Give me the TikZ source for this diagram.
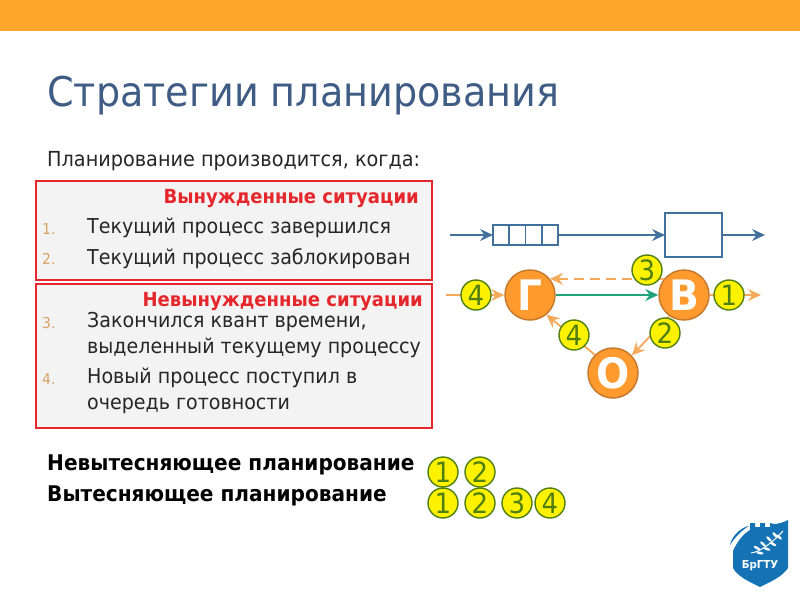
\documentclass[tikz,border=0pt]{standalone}
\usepackage{fontspec}
\setmainfont[FakeStretch=0.93]{DejaVu Sans}
\usetikzlibrary{arrows.meta}
\definecolor{band}{HTML}{FFA62B}
\definecolor{titlec}{HTML}{3F5C85}
\definecolor{redc}{HTML}{E5262B}
\definecolor{boxbg}{HTML}{F3F3F3}
\definecolor{bluec}{HTML}{41719C}
\definecolor{orfill}{HTML}{FF9A2E}
\definecolor{orline}{HTML}{C77A2E}
\definecolor{orarr}{HTML}{F5A95B}
\definecolor{greenc}{HTML}{1FA37A}
\definecolor{badgeline}{HTML}{4F7F10}
\definecolor{numc}{HTML}{D9A366}
\definecolor{logoc}{HTML}{1573B5}
\tikzset{
 x=1pt,y=-1pt,
 txt/.style={anchor=base west,inner sep=0pt,font=\fontsize{20.5}{23}\selectfont,text=black!85},
 num/.style={anchor=base west,inner sep=0pt,font=\fontsize{15}{16}\selectfont,text=numc},
 head/.style={anchor=base east,inner sep=0pt,font=\fontsize{19.4}{20}\selectfont\bfseries,text=redc},
 boldt/.style={anchor=base west,inner sep=0pt,font=\fontsize{21.6}{22}\selectfont\bfseries,text=black},
 rbox/.style={draw=redc,line width=1.8pt,fill=boxbg},
 blu/.style={draw=bluec,line width=1.8pt},
 bluearr/.style={blu,-{Stealth[length=13pt,width=12pt,inset=4.5pt]}},
 ordarr/.style={draw=orarr,line width=1.8pt,-{Stealth[length=13pt,width=12pt,inset=4.5pt]}},
 proc/.style={circle,draw=orline,line width=1.5pt,fill=orfill,minimum size=50pt,inner sep=0pt,text=white,font=\fontsize{42}{50}\selectfont\bfseries},
 badge/.style={circle,draw=badgeline,line width=1.4pt,fill=yellow,minimum size=30pt,inner sep=0pt,text=badgeline,font=\fontsize{28}{30}\selectfont},
 cellb/.style={draw=bluec,line width=1.8pt,fill=white,minimum width=16.25pt,minimum height=20pt,inner sep=0pt,outer sep=0pt,anchor=west},
 bigb/.style={draw=bluec,line width=1.8pt,fill=white,minimum width=57pt,minimum height=44pt,inner sep=0pt,outer sep=0pt},
}
\begin{document}
\begin{tikzpicture}
\useasboundingbox (0,0) rectangle (800,600);
\fill[white] (0,0) rectangle (800,600);
\fill[band] (0,0) rectangle (800,31);
\node[anchor=base west,inner sep=0pt,text=titlec,font=\fontsize{41}{44}\selectfont] (title) at (47,106) {Стратегии планирования};
\node[anchor=base west,inner sep=0pt,text=black!85,font=\fontsize{20.7}{22}\selectfont] (lead) at (47,166) {Планирование производится, когда:};
% boxes
\node[rbox,minimum width=396pt,minimum height=99pt,inner sep=0pt,anchor=north west] (b1) at (35,180) {};
\node[rbox,minimum width=396pt,minimum height=144pt,inner sep=0pt,anchor=north west] (b2) at (35,283) {};
\node[head] (h1) at (419,203) {Вынужденные ситуации};
\node[head] (h2) at (423,306) {Невынужденные ситуации};
\node[num] (n1) at (42,234) {1.};
\node[num] (n2) at (42,264) {2.};
\node[num] (n3) at (42,328) {3.};
\node[num] (n4) at (42,384) {4.};
\node[txt] (t1) at (87,233) {Текущий процесс завершился};
\node[txt] (t2) at (87,264) {Текущий процесс заблокирован};
\node[txt] (t3) at (87,327) {Закончился квант времени,};
\node[txt] (t3b) at (87,353) {выделенный текущему процессу};
\node[txt] (t4) at (87,383) {Новый процесс поступил в};
\node[txt] (t4b) at (87,409) {очередь готовности};
\node[boldt] (p1) at (47,470) {Невытесняющее планирование};
\node[boldt] (p2) at (47,501) {Вытесняющее планирование};
% queue model
\coordinate (qin) at (450,235);
\coordinate (qout) at (765,235);
\node[cellb] (c1) at (493,235) {};
\node[cellb] (c2) at (c1.east) {};
\node[cellb] (c3) at (c2.east) {};
\node[cellb] (c4) at (c3.east) {};
\node[bigb] (cpu) at (693.5,235) {};
\draw[bluearr] (qin) -- (c1.west);
\draw[bluearr] (c4.east) -- (cpu.west);
\draw[bluearr] (cpu.east) -- (qout);
% state graph
\node[proc] (g) at (530,295) {Г};
\node[proc] (v) at (684,295) {В};
\node[proc] (o) at (613,373) {О};
\coordinate (gin) at (446,295);
\coordinate (vout) at (761,295);
\draw[ordarr] (gin) -- (g.west);
\draw[ordarr] (v.east) -- (vout);
\draw[ordarr,dash pattern=on 10pt off 6pt] (v.141) -- (g.39);
\draw[draw=greenc,line width=1.8pt,-{Stealth[length=13pt,width=12pt,inset=4.5pt]}] (g.east) -- (v.west);
\draw[ordarr] (v.-125) -- (o.43);
\draw[ordarr] (o.135) -- (g.-50);
\node[badge] (b4a) at (476,295) {4};
\node[badge] (b3) at (647,270) {3};
\node[badge] (b1c) at (729,295) {1};
\node[badge] (b2c) at (665,333) {2};
\node[badge] (b4b) at (574,335) {4};
% legend
\node[badge] (l1) at (443,472) {1};
\node[badge] (l2) at (480,472) {2};
\node[badge] (m1) at (443,503) {1};
\node[badge] (m2) at (480,503) {2};
\node[badge] (m3) at (517,503) {3};
\node[badge] (m4) at (550,503) {4};
% logo
\fill[logoc] (733,551) .. controls (737,542) and (743,534) .. (750,530) -- (750,523) -- (755,523) -- (755,527) -- (760,527) -- (760,523) -- (765,523) -- (765,527) -- (770,527) -- (770,523) -- (774,524) .. controls (779,524) and (784,522) .. (788,520) -- (788,568) .. controls (782,577) and (770,582) .. (760,587) .. controls (750,582) and (738,577) .. (733,568) -- cycle;
\fill[logoc] (730,545) .. controls (732,535) and (742,527) .. (749,526) .. controls (742,530) and (735,537) .. (730,545) -- cycle;
\draw[white,line width=1pt] (751,553) .. controls (760,552) and (772,543) .. (783,531);
\foreach \lx/\ly/\la in {757/548/-30,763/544/-40,769/539/-45,775/535/-50,760/553/-10,767/549/-20,773/544/-30,779/537/-40}
  \fill[white,rotate around={\la:(\lx,\ly)}] (\lx,\ly) ellipse (3.6 and 1.3);
\node[inner sep=0pt,text=white,font=\fontsize{11}{12}\selectfont\bfseries] (logot) at (760,566) {БрГТУ};
\end{tikzpicture}
\end{document}
